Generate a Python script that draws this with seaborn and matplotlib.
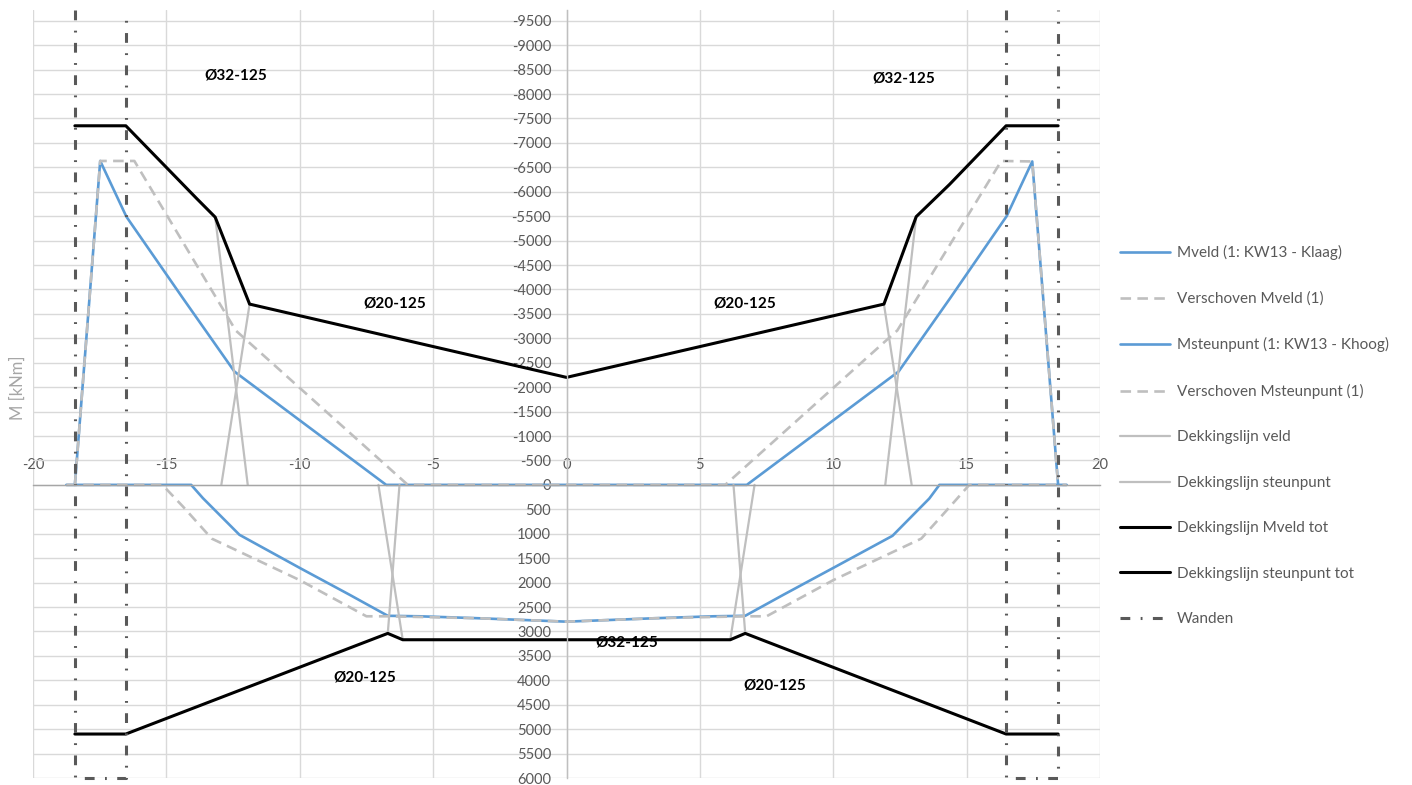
import matplotlib
matplotlib.use("Agg")
import matplotlib.pyplot as plt
import pandas as pd
import seaborn as sns
from matplotlib.lines import Line2D

# --- data (x in m, M in kNm, negative = hogging) ---
msteun_x = [-18.43, -17.48, -16.5, -14.38, -12.45, -6.76, 6.76, 12.45, 14.38, 16.5, 17.46, 18.43]
msteun_m = [0, -6630, -5490, -3820, -2320, 0, 0, -2320, -3820, -5500, -6620, 0]

msteun_shift_x = [-18.43, -17.48, -16.2, -12.4, -5.95, 5.95, 12.4, 16.3, 17.46, 18.43]
msteun_shift_m = [0, -6630, -6630, -3160, 0, 0, -3160, -6630, -6620, 0]

mveld_x = [-18.75, -14.07, -13.63, -12.26, -10.0, -8.13, -6.7, -5.5, -3.3, 0,
           3.3, 5.5, 6.7, 8.13, 10.0, 12.22, 13.6, 13.98, 18.75]
mveld_m = [0, 0, 272, 1022, 1700, 2250, 2680, 2690, 2730, 2800,
           2730, 2690, 2680, 2250, 1700, 1043, 280, 0, 0]

mveld_shift_x = [-18.75, -15.15, -14.38, -13.3, -10.0, -7.5, -6.7, -3.3, 0,
                 3.3, 6.7, 7.5, 10.0, 13.3, 14.38, 15.1, 18.75]
mveld_shift_m = [0, 0, 443, 1100, 1950, 2690, 2690, 2730, 2800,
                 2730, 2690, 2690, 1950, 1100, 443, 0, 0]

# cover lines (anchorage), each pair of points one segment
dek_veld = [([-7.05, -6.14], [0, 3170]), ([-6.26, -6.70], [0, 3040]),
            ([7.05, 6.14], [0, 3170]), ([6.26, 6.70], [0, 3040])]
dek_steun = [([-13.17, -11.95], [-5480, 0]), ([-11.88, -12.94], [-3700, 0]),
             ([13.11, 11.95], [-5490, 0]), ([11.9, 12.94], [-3700, 0])]

tot_veld_x = [-18.43, -16.52, -6.70, -6.14, 6.14, 6.70, 16.48, 18.43]
tot_veld_m = [5100, 5100, 3040, 3170, 3170, 3040, 5100, 5100]

tot_steun_x = [-18.43, -16.52, -13.88, -13.17, -11.88, 0, 11.9, 13.11, 14.36, 16.48, 18.43]
tot_steun_m = [-7350, -7350, -5870, -5480, -3700, -2200, -3700, -5490, -6150, -7350, -7350]

wand_left_x = [-18.43, -18.43, -16.52, -16.52]
wand_right_x = [16.48, 16.48, 18.43, 18.43]
wand_m = [-9720, 6000, 6000, -9720]

labels = ["Mveld (1: KW13 - Klaag)", "Verschoven Mveld (1)", "Msteunpunt (1: KW13 - Khoog)",
          "Verschoven Msteunpunt (1)", "Dekkingslijn veld", "Dekkingslijn steunpunt",
          "Dekkingslijn Mveld tot", "Dekkingslijn steunpunt tot", "Wanden"]

rebar_text = ["Ø32-125", "Ø32-125", "Ø20-125", "Ø20-125", "Ø20-125", "Ø20-125", "Ø32-125"]
rebar_x = [-12.4, 12.66, -6.44, 6.67, -7.57, 7.79, 2.25]
rebar_m = [-8380, -8320, -3720, -3720, 3950, 4110, 3230]

# --- build one long frame ---
rows = []
def add(name, segs):
    for i, (xs, ms) in enumerate(segs):
        for x, m in zip(xs, ms):
            rows.append({"series": name, "seg": i, "x": x, "M": m})

add(labels[0], [(mveld_x, mveld_m)])
add(labels[1], [(mveld_shift_x, mveld_shift_m)])
add(labels[2], [(msteun_x, msteun_m)])
add(labels[3], [(msteun_shift_x, msteun_shift_m)])
add(labels[4], dek_veld)
add(labels[5], dek_steun)
add(labels[6], [(tot_veld_x, tot_veld_m)])
add(labels[7], [(tot_steun_x, tot_steun_m)])
add(labels[8], [(wand_left_x, wand_m), (wand_right_x, wand_m)])
df = pd.DataFrame(rows)

blue = "#5B9BD5"
grey = "#BFBFBF"
styles = {
    labels[0]: dict(color=blue, lw=1.9, ls="-"),
    labels[1]: dict(color=grey, lw=1.9, ls=(0, (4, 2.4))),
    labels[2]: dict(color=blue, lw=1.9, ls="-"),
    labels[3]: dict(color=grey, lw=1.9, ls=(0, (4, 2.4))),
    labels[4]: dict(color=grey, lw=1.6, ls="-"),
    labels[5]: dict(color=grey, lw=1.6, ls="-"),
    labels[6]: dict(color="black", lw=2.2, ls="-"),
    labels[7]: dict(color="black", lw=2.2, ls="-"),
    labels[8]: dict(color="#595959", lw=2.2, ls=(0, (3.2, 3.4, 0.6, 3.4))),
}

sns.set_theme(style="white")
plt.rcParams["font.family"] = ["Lato", "DejaVu Sans"]
plt.rcParams["axes.unicode_minus"] = False

fig = plt.figure(figsize=(14.12, 7.85), dpi=100)
ax = fig.add_axes([33 / 1412, 7 / 785, 1067 / 1412, 768 / 785])

for name in labels:
    st = styles[name]
    sns.lineplot(data=df[df["series"] == name], x="x", y="M", units="seg",
                 estimator=None, sort=False, color=st["color"], linewidth=st["lw"],
                 linestyle=st["ls"], legend=False, ax=ax,
                 clip_on=(name != labels[8]))

ax.set_xlim(-20, 20)
ax.set_ylim(6000, -9720)
ax.set_xticks(range(-20, 21, 5))
ax.set_yticks(range(-9500, 6001, 500))
ax.set_xlabel("")
ax.set_ylabel("")

ax.grid(True, color="#D9D9D9", lw=1)
ax.set_axisbelow(True)
for s in ["bottom", "right"]:
    ax.spines[s].set_visible(False)
ax.spines["left"].set_position(("data", 0))
ax.spines["top"].set_position(("data", 0))
ax.spines["left"].set_color("#BFBFBF")
ax.spines["top"].set_color("#A6A6A6")
ax.spines["left"].set_linewidth(1)
ax.spines["top"].set_linewidth(1)
ax.xaxis.tick_top()
ax.tick_params(axis="x", length=0, pad=9, labelsize=10.5, labelcolor="#595959")
ax.tick_params(axis="y", length=0, pad=11, labelsize=10.5, labelcolor="#595959")

for t, x, m in zip(rebar_text, rebar_x, rebar_m):
    ax.text(x, m, t, ha="center", va="center", fontsize=11, fontweight="bold", color="black")

fig.text(18 / 1412, 1 - 388 / 785, "M [kNm]", rotation=90, ha="center", va="center",
         fontsize=12, color="#A6A6A6")

handles = [Line2D([], [], color=styles[n]["color"], lw=styles[n]["lw"], linestyle=styles[n]["ls"])
           for n in labels]
fig.legend(handles, labels, loc="upper left", bbox_to_anchor=(1120 / 1412, 1 - 245 / 785),
           frameon=False, fontsize=11, labelcolor="#595959", handlelength=3.3,
           handletextpad=0.4, labelspacing=2.06, borderpad=0, borderaxespad=0)

fig.savefig("out.png", dpi=100)
